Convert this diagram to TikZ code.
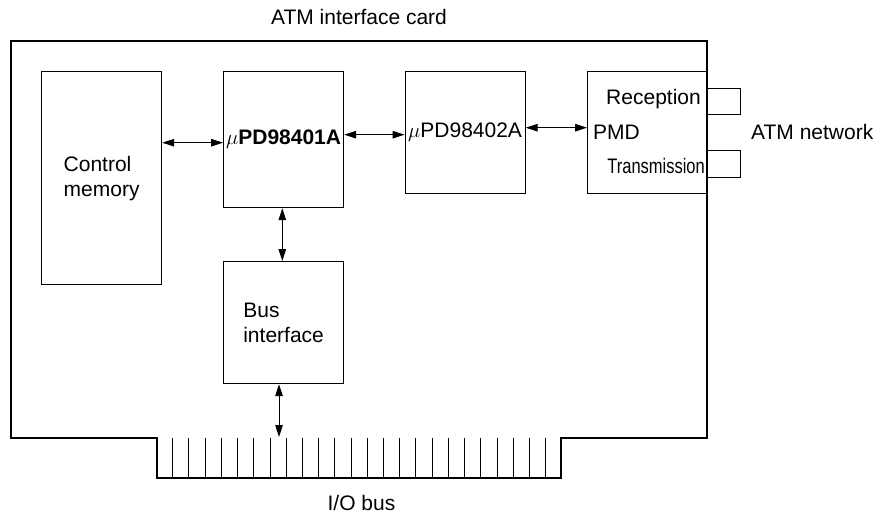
\documentclass[tikz,border=0pt]{standalone}
\usepackage{fontspec}
\usepackage{graphicx}
\setmainfont{Liberation Sans}
\usetikzlibrary{arrows.meta}
\tikzset{
  txt/.style={font=\fontsize{21}{25}\selectfont, inner sep=0pt},
  blk/.style={draw, line width=1.2pt, inner sep=0pt, anchor=north west, font=\fontsize{21}{25}\selectfont},
  port/.style={draw, line width=1pt, inner sep=0pt, anchor=north west},
  arr/.style={line width=1pt, {Triangle[length=12pt,width=7.5pt]}-{Triangle[length=12pt,width=7.5pt]}},
  card/.style={draw, line width=2.5pt},
  tooth/.style={line width=1pt}
}
\begin{document}
\begin{tikzpicture}[x=1pt,y=-1pt]
\useasboundingbox (0,0) rectangle (881,516);
% card outline
\draw[card] (11,41) -- (707,41) -- (707,438) -- (561,438) -- (561,478) -- (157,478) -- (157,438) -- (11,438) -- cycle;
% connector teeth
\foreach \i in {0,...,23} {
  \draw[tooth] ({172.7+16.217*\i},438) -- ({172.7+16.217*\i},478);
}
% blocks
\node[blk, minimum width=120pt, minimum height=213pt, align=left] (cm) at (41,71) {Control\\memory};
\node[blk, minimum width=120pt, minimum height=136pt] (cpu) at (223,71) {\raisebox{-3pt}{$\mu$\textbf{PD98401A}}};
\node[blk, minimum width=120pt, minimum height=122pt] (phy) at (404.5,71) {\raisebox{-2pt}{$\mu$PD98402A}};
\node[blk, minimum width=120pt, minimum height=122pt] (pmd) at (587,71) {};
\node[blk, minimum width=120pt, minimum height=122pt, align=left] (bus) at (223,261) {Bus\\interface};
% ports
\node[port, minimum width=33pt, minimum height=26pt] (rx) at (707,88) {};
\node[port, minimum width=33pt, minimum height=27pt] (tx) at (707,150) {};
% texts
\node[txt, anchor=base] (title) at (359,25) {ATM interface card};
\node[txt, anchor=base] (iobus) at (361.5,510.7) {I/O bus};
\node[txt, anchor=base west] (net) at (751,139.3) {ATM network};
\node[txt, anchor=base east] (rxl) at (701,105) {Reception};
\node[txt, anchor=base west] (pmdl) at (593,140) {PMD};
\node[txt, anchor=base east] (txl) at (705,173.3) {\scalebox{0.785}[1]{Transmission}};
% helper coordinates
\coordinate (y1) at (0,142.7);
\coordinate (y2) at (0,134.7);
\coordinate (y3) at (0,127.7);
\coordinate (x1) at (282.3,0);
\coordinate (io) at (279,437);
% connectors
\draw[arr] (cm.east |- y1) -- (cpu.west |- y1);
\draw[arr] (cpu.east |- y2) -- (phy.west |- y2);
\draw[arr] (phy.east |- y3) -- (pmd.west |- y3);
\draw[arr] (x1 |- cpu.south) -- (x1 |- bus.north);
\draw[arr] (io |- bus.south) -- (io);
\end{tikzpicture}
\end{document}
